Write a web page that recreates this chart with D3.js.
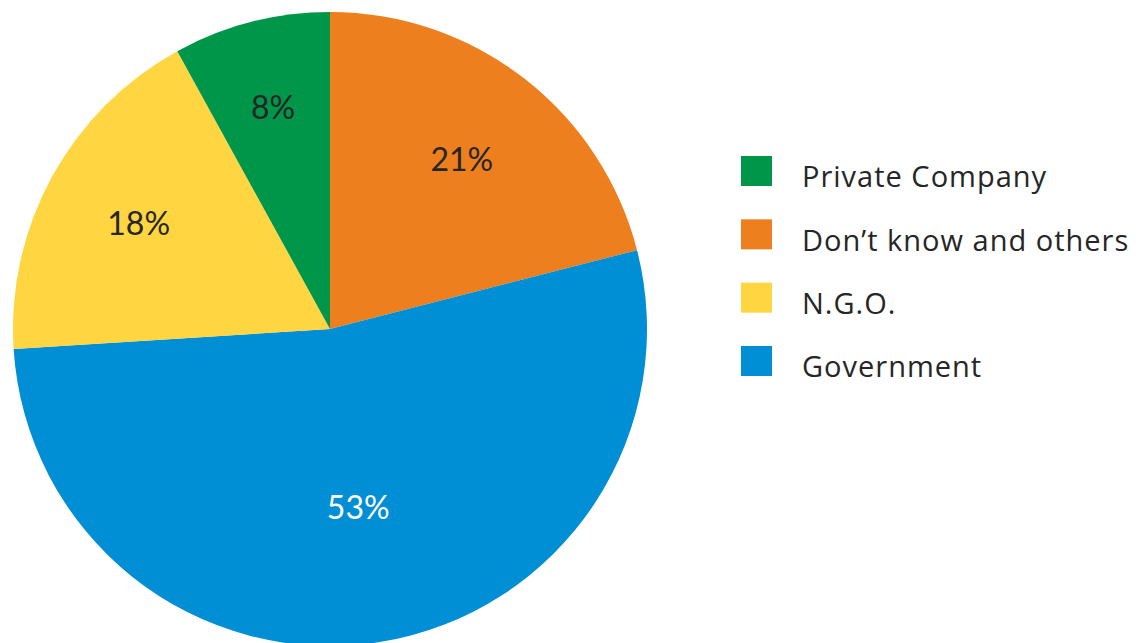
<!DOCTYPE html>
<html>
<head>
<meta charset="utf-8">
<script src="https://cdn.jsdelivr.net/npm/d3@7"></script>
<style>
  html, body { margin: 0; padding: 0; background: #fff; }
  svg { display: block; }
</style>
</head>
<body>
<svg id="chart" width="1140" height="643"></svg>
<script>
// Slices in drawing order (clockwise from 12 o'clock)
const sliceCategories = ["Don’t know and others", "Government", "N.G.O.", "Private Company"];
const sliceValues = [21, 53, 18, 8];
const sliceColors = ["#EE7F1E", "#008ED5", "#FFD641", "#00964A"];
const labelColors = ["#262626", "#ffffff", "#262626", "#262626"];
// Legend order
const legendCategories = ["Private Company", "Don’t know and others", "N.G.O.", "Government"];

const svg = d3.select("#chart");
const cx = 330, cy = 329, R = 317;

const color = d3.scaleOrdinal().domain(sliceCategories).range(sliceColors);
const labelColor = d3.scaleOrdinal().domain(sliceCategories).range(labelColors);

const data = sliceCategories.map((c, i) => ({ category: c, value: sliceValues[i] }));
const total = d3.sum(sliceValues);
const pie = d3.pie().value(d => d.value).sort(null);
const arcs = pie(data);

const arc = d3.arc().innerRadius(0).outerRadius(R);
// "best fit" style placement: smaller slices get labels nearer the rim
function labelPos(d) {
  const f = d.data.value / total;
  const r = R * (0.75 - 0.34 * f);
  return d3.arc().innerRadius(r).outerRadius(r).centroid(d);
}

const g = svg.append("g").attr("transform", `translate(${cx},${cy})`);

g.selectAll("path.slice")
  .data(arcs)
  .join("path")
  .attr("class", "slice")
  .attr("d", arc)
  .attr("fill", d => color(d.data.category));

g.selectAll("text.pct")
  .data(arcs)
  .join("text")
  .attr("class", "pct")
  .attr("transform", d => `translate(${labelPos(d)})`)
  .attr("text-anchor", "middle")
  .attr("dy", "0.36em")
  .attr("font-family", "Lato, 'Open Sans', sans-serif")
  .attr("font-size", 32)
  .attr("fill", d => labelColor(d.data.category))
  .text(d => d.data.value + "%");

// Legend
const legendY = d3.scalePoint().domain(legendCategories).range([171, 361]);
const legend = svg.append("g").attr("class", "legend");
const items = legend.selectAll("g.item")
  .data(legendCategories)
  .join("g")
  .attr("class", "item")
  .attr("transform", d => `translate(741,${legendY(d)})`);

items.append("rect")
  .attr("x", 0).attr("y", -15)
  .attr("width", 31).attr("height", 30)
  .attr("fill", d => color(d));

items.append("text")
  .attr("x", 61)
  .attr("y", 6)
  .attr("dy", "0.36em")
  .attr("font-family", "'Open Sans', sans-serif")
  .attr("font-size", 29)
  .attr("letter-spacing", 1.0)
  .attr("fill", "#262626")
  .text(d => d);
</script>
</body>
</html>
